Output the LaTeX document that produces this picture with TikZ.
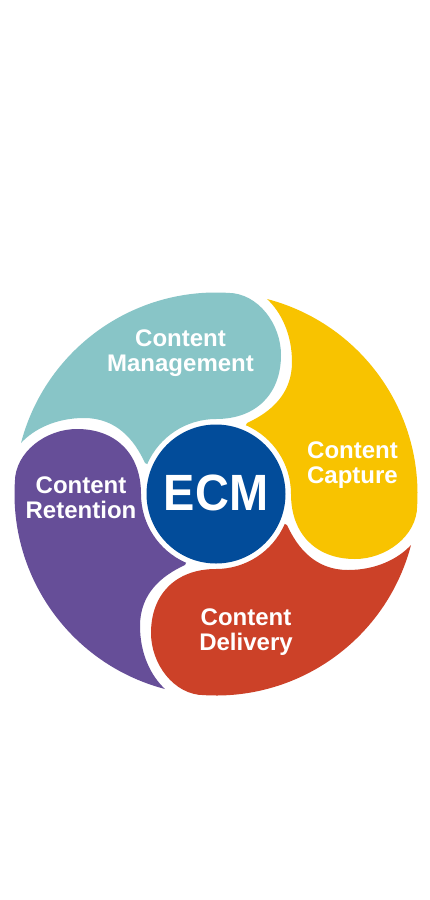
\documentclass[tikz,border=0pt]{standalone}
\usepackage{fontspec}
\usepackage{graphicx}
\setmainfont{Liberation Sans}
\definecolor{cteal}{HTML}{88C5C7}
\definecolor{cyellow}{HTML}{F8C300}
\definecolor{cred}{HTML}{CC4128}
\definecolor{cpurple}{HTML}{664E98}
\definecolor{cblue}{HTML}{024C9A}
\begin{document}
\begin{tikzpicture}[x=1pt,y=1pt,
  lbl/.style={text=white,font=\fontsize{24}{25}\selectfont\bfseries,align=center,inner sep=0pt},
  piece/.pic={
    \fill[#1] (-195,51) arc[start angle=165.34, end angle=86.6, radius=201.5]
      .. controls (42,201) and (65,170) .. (65,139)
      .. controls (65,100) and (40,75) .. (0,75)
      arc[start angle=90, end angle=156.5, radius=75]
      -- (-71,31) .. controls (-82,55) and (-100,76) .. (-132,76)
      .. controls (-160,76) and (-182,65) .. (-195,51)
      -- cycle;
  }]
\useasboundingbox[fill=white] (0,0) rectangle (430,-900);
\coordinate (O) at (216,-494);
\pic[rotate=0] at (O) {piece=cteal};
\pic[rotate=-90] at (O) {piece=cyellow};
\pic[rotate=-180] at (O) {piece=cred};
\pic[rotate=-270] at (O) {piece=cpurple};
\node[circle,fill=cblue,minimum size=139pt,inner sep=0pt] (ecm) at (O) {};
\node[text=white,font=\fontsize{51}{51}\selectfont\bfseries,inner sep=0pt] (ecmtxt) at (216,-493) {\scalebox{0.92}[1]{ECM}};
\node[lbl] (mgmt) at (180.5,-353) {Content\\Management};
\node[lbl] (capt) at (352.5,-465) {Content\\Capture};
\node[lbl] (ret) at (81,-498) {Content\\Retention};
\node[lbl] (del) at (246,-631.7) {Content\\Delivery};
\end{tikzpicture}
\end{document}
